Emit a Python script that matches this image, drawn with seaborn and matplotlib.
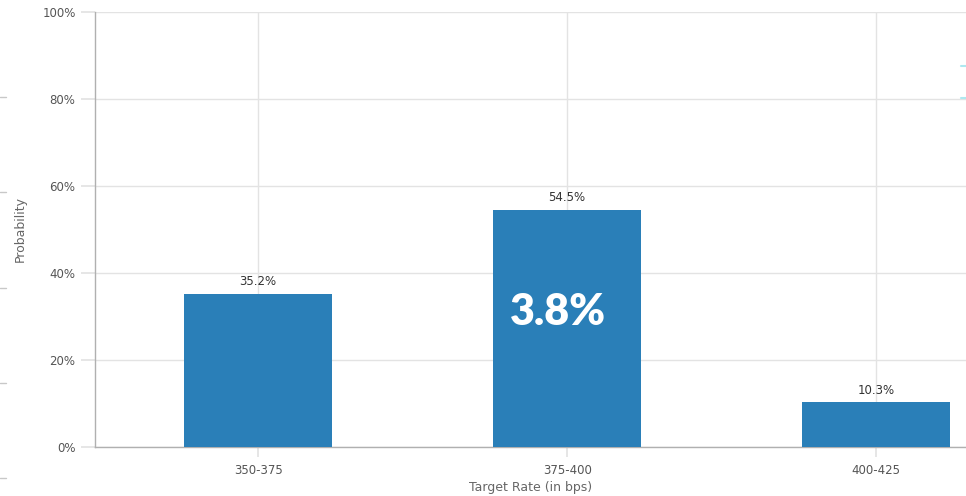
import matplotlib
matplotlib.use("Agg")
import matplotlib.pyplot as plt
import seaborn as sns
import pandas as pd
from matplotlib.ticker import FuncFormatter

categories = ["350-375", "375-400", "400-425"]
probabilities = [35.2, 54.5, 10.3]
value_labels = ["35.2%", "54.5%", "10.3%"]
y_ticks = [0, 20, 40, 60, 80, 100]
overlay_text = "3.8%"

df = pd.DataFrame({"rate": categories, "prob": probabilities})

sns.set_theme(style="white")
plt.rcParams['font.family'] = ['DejaVu Sans']

fig = plt.figure(figsize=(9.66, 4.96), dpi=100)
ax = fig.add_axes([95/966, 1-447/496, 1-95/966, (447-12)/496])

bar_color = "#2a7fb8"
sns.barplot(data=df, x="rate", y="prob", color=bar_color, width=0.48,
            saturation=1, ax=ax, zorder=3, edgecolor="none")

ax.set_ylim(0, 100)
ax.set_xlim(-0.528, 2.291)
ax.set_yticks(y_ticks)
ax.yaxis.set_major_formatter(FuncFormatter(lambda v, p: f"{int(v)}%"))

ax.grid(True, axis="both", color="#e3e3e3", linewidth=1, zorder=0)
ax.set_axisbelow(True)
for s in ["top", "right"]:
    ax.spines[s].set_visible(False)
for s in ["left", "bottom"]:
    ax.spines[s].set_color("#b0b0b0")
    ax.spines[s].set_linewidth(1)

ax.tick_params(axis="y", length=10, color="#e3e3e3", labelsize=8.5, labelcolor="#555555", pad=4, left=True)
ax.tick_params(axis="x", length=7, color="#e3e3e3", labelsize=8.5, labelcolor="#555555", pad=5, bottom=True)

ax.set_xlabel("Target Rate (in bps)", fontsize=9, color="#666666", labelpad=3)
ax.set_ylabel("Probability", fontsize=9, color="#666666", labelpad=11)

for i, (v, lab) in enumerate(zip(probabilities, value_labels)):
    ax.annotate(lab, (i, v), xytext=(0, 4), textcoords="offset points",
                ha="center", va="bottom", fontsize=8.5, color="#333333")

ax.text(1 - 0.03, 31, overlay_text, ha="center", va="center", fontsize=31,
        fontweight="heavy", color="white", zorder=5, family=["Lato", "DejaVu Sans"])

# faint edge marks
for yy in [97, 192, 288, 383, 478]:
    fig.add_artist(plt.Line2D([0, 6/966], [1-yy/496, 1-yy/496], color="#c8c8c8", lw=1))
for yy in [66, 98]:
    fig.add_artist(plt.Line2D([961/966, 1], [1-yy/496, 1-yy/496], color="#aee8f0", lw=1.5))

fig.savefig("out.png", dpi=100)
